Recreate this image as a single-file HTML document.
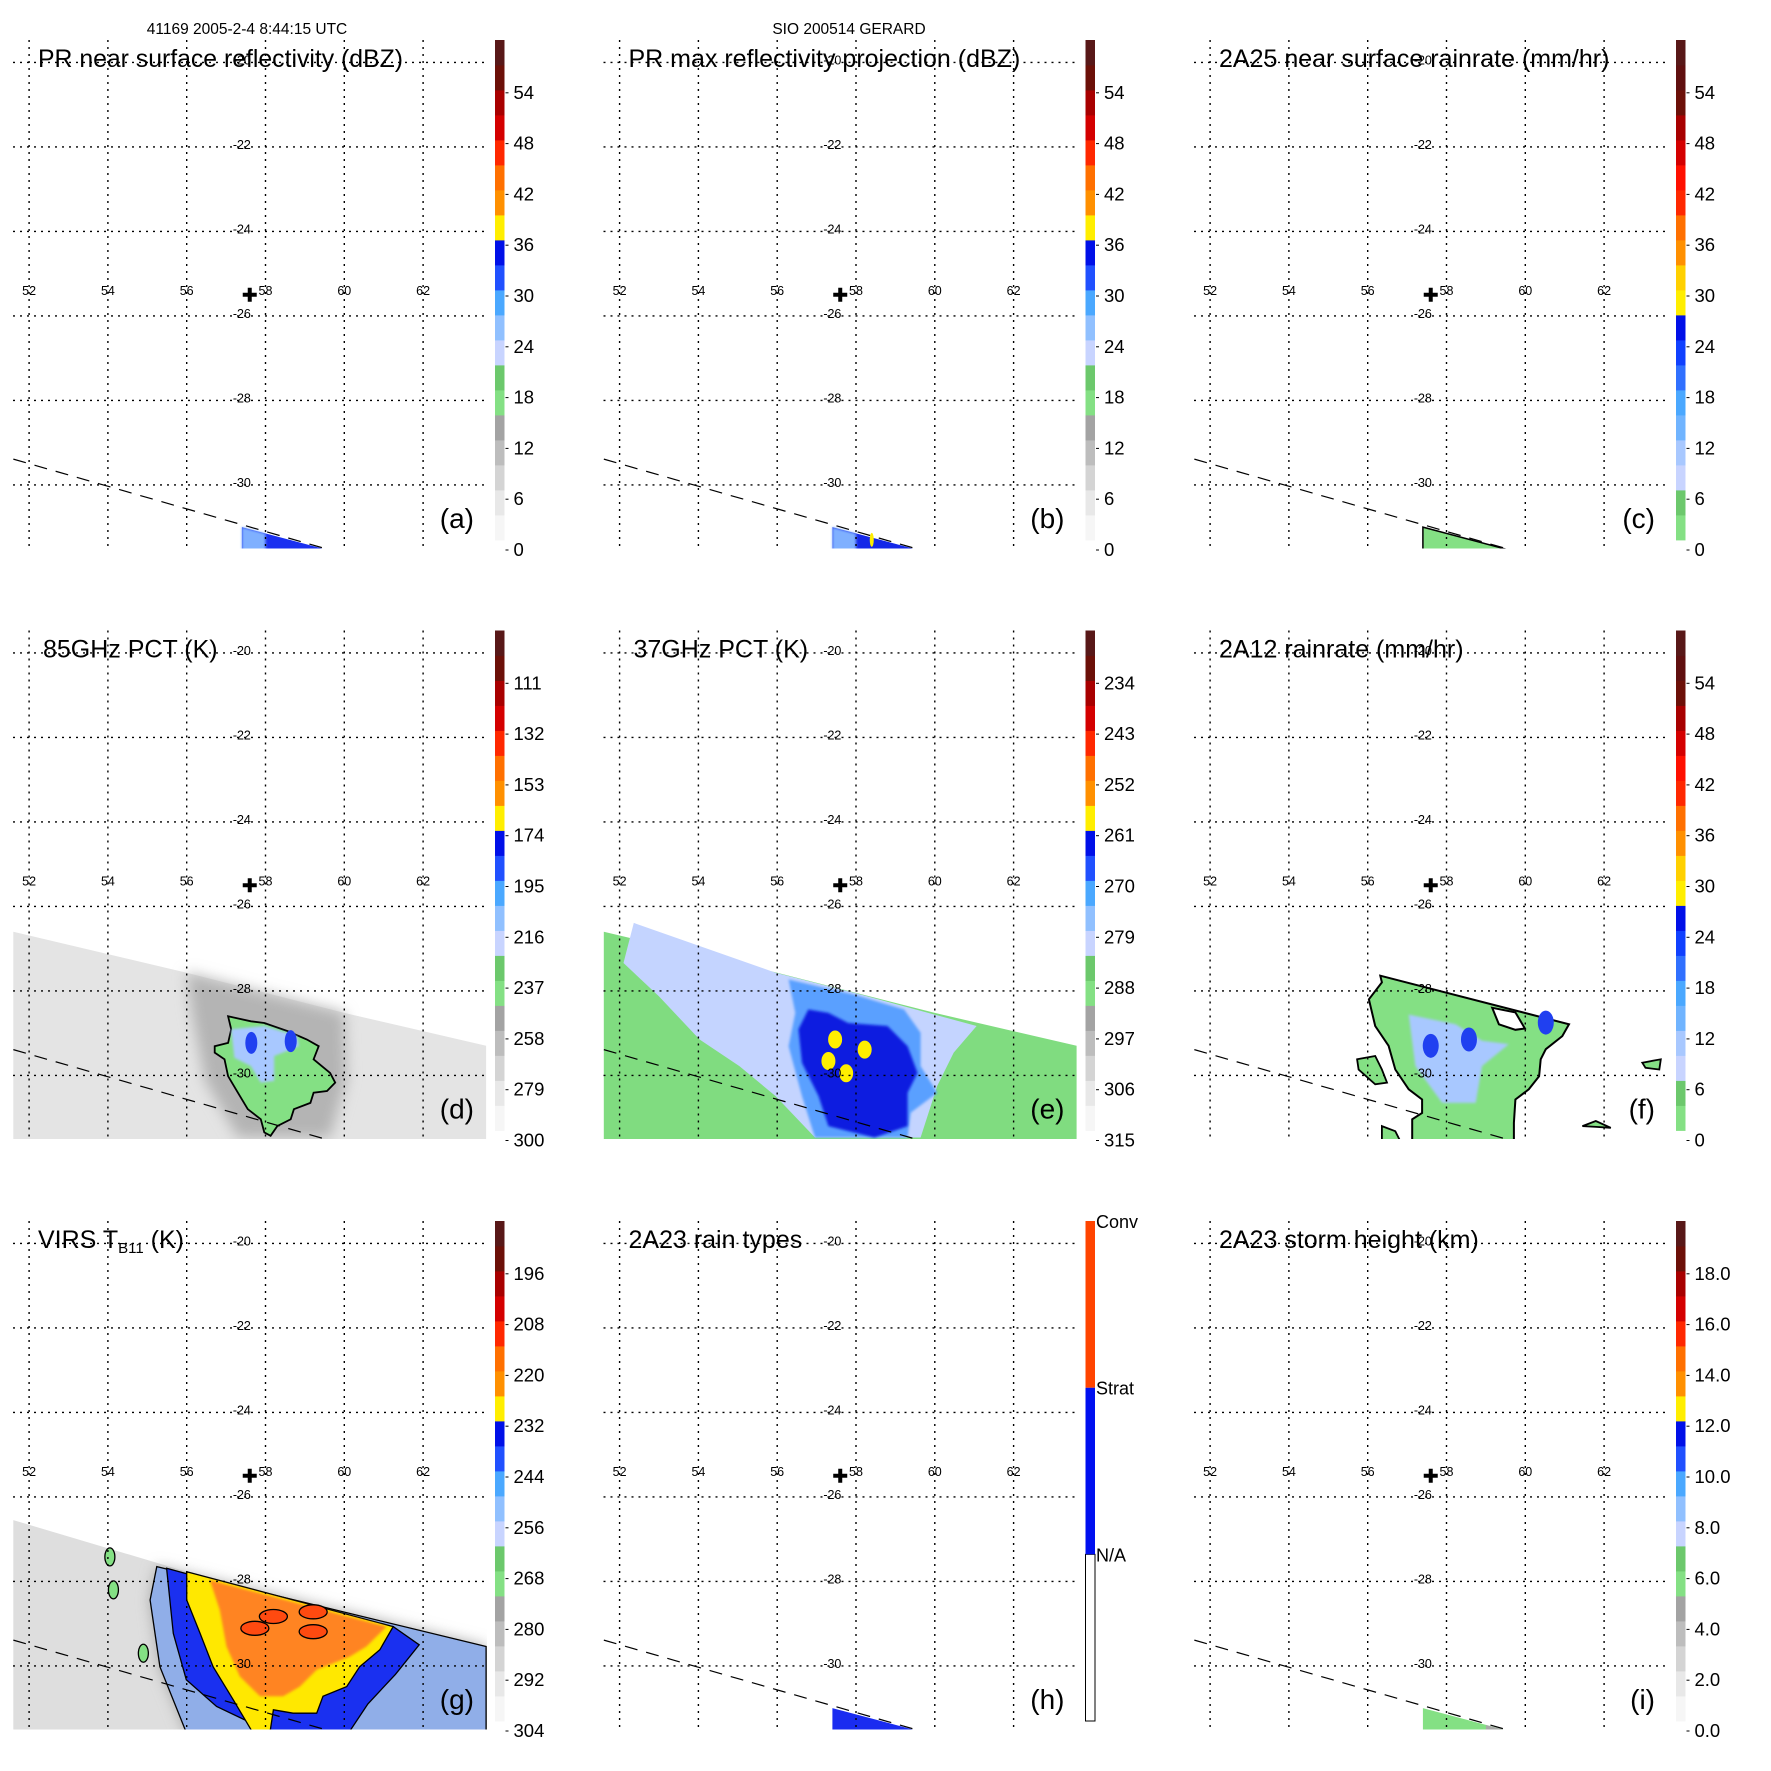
<!DOCTYPE html>
<html><head><meta charset="utf-8"><title>TRMM overpass 41169 GERARD</title>
<style>
html,body{margin:0;padding:0;background:#fff;}
svg{display:block;font-family:"Liberation Sans",Arial,sans-serif;}
</style></head>
<body>
<svg id="fig" width="1771" height="1771" viewBox="0 0 1771 1771" xmlns="http://www.w3.org/2000/svg">
<defs>
<filter id="blur6" x="-20%" y="-20%" width="140%" height="140%"><feGaussianBlur stdDeviation="7"/></filter>
<filter id="blur2"><feGaussianBlur stdDeviation="1.2"/></filter>
</defs>
<text x="247" y="34" font-size="15.5" text-anchor="middle">41169 2005-2-4 8:44:15 UTC</text>
<text x="849" y="34" font-size="15.5" text-anchor="middle">SIO 200514 GERARD</text>
</svg>
<script>
// ---- axis data ----
const lonTicks = [52,54,56,58,60,62];
const latTicks = [-20,-22,-24,-26,-28,-30];
const centerPoint = [57.6,-25.5];
const dashLine = [[51.6,-29.39],[59.6,-31.53]];
// ---- colorbar tick labels ----
const labelsDbz = ['0','6','12','18','24','30','36','42','48','54'];
const labels85 = ['300','279','258','237','216','195','174','153','132','111'];
const labels37 = ['315','306','297','288','279','270','261','252','243','234'];
const labelsVirs = ['304','292','280','268','256','244','232','220','208','196'];
const labelsHeight = ['0.0','2.0','4.0','6.0','8.0','10.0','12.0','14.0','16.0','18.0'];
const rainTypeLabels = ['N/A','Strat','Conv'];
// ---- colour tables (20 bins each) ----
const colorsA = ['#f6f6f6','#e8e8e8','#d4d4d4','#bdbdbd','#a3a3a3','#84e084','#6cc86c','#c8d4ff','#90c0ff','#4aa8ff','#2050ff','#0010e8','#ffee00','#ff9000','#ff7000','#ff2800','#d40000','#a80000','#6c1008','#581818'];
const colorsC = ['#84e084','#6cc86c','#c8d4ff','#a8c8ff','#70b4ff','#4aa8ff','#3070ff','#1040ff','#0010e8','#ffee00','#ffd000','#ff9000','#ff7000','#ff2800','#ff1000','#d40000','#a80000','#6c1008','#601010','#581818'];
// ---- PR swath (rows 1,3) ----
const prSwath = [[57.4,-31.0],[59.9,-31.62],[57.4,-31.62]];
// ---- TMI swath ----
const tmiSwath = [[51.6,-26.6],[56.0,-27.57],[60.0,-28.52],[63.6,-29.3],[63.6,-31.7],[51.6,-31.7]];
// ---- panel d (85 GHz) ----
const dDark = [[56.0,-27.57],[57.97,-28.05],[60.0,-28.52],[60.06,-30.1],[59.64,-31.47],[57.3,-31.47],[56.46,-30.1],[56.13,-28.52]];
const dGreen = [[57.05,-28.6],[57.63,-28.72],[57.97,-28.76],[58.55,-28.95],[59.05,-29.15],[59.35,-29.31],[59.22,-29.62],[59.64,-29.94],[59.77,-30.17],[59.56,-30.37],[59.22,-30.41],[59.14,-30.65],[58.72,-30.8],[58.64,-31.04],[58.3,-31.2],[58.13,-31.43],[57.97,-31.35],[57.88,-31.04],[57.55,-30.8],[57.3,-30.41],[57.05,-30.02],[56.96,-29.62],[56.71,-29.46],[56.71,-29.31],[57.05,-29.23],[57.13,-28.91]];
const dLight = [[57.13,-28.91],[57.97,-28.83],[58.8,-29.07],[58.85,-29.31],[58.22,-29.54],[58.22,-30.13],[57.88,-30.17],[57.63,-29.78],[57.21,-29.58]];
const dBlueSpots = [[57.64,-29.23],[58.64,-29.19]];
// ---- panel e (37 GHz) ----
const eLight = [[52.36,-26.39],[55.96,-27.57],[57.97,-28.05],[61.06,-28.83],[60.48,-29.46],[60.06,-30.25],[59.64,-31.47],[56.96,-31.47],[55.96,-30.49],[55.04,-29.78],[54.03,-29.15],[53.0,-28.13],[52.1,-27.34]];
const eMid = [[56.29,-27.73],[57.97,-28.09],[59.22,-28.44],[59.64,-28.99],[59.64,-29.78],[60.06,-30.41],[59.39,-30.88],[59.31,-31.47],[56.96,-31.47],[56.63,-30.49],[56.29,-29.31],[56.46,-28.52]];
const eCore = [[56.79,-28.44],[57.3,-28.52],[57.8,-28.76],[58.8,-28.83],[59.31,-29.31],[59.56,-29.94],[59.31,-30.41],[59.31,-31.2],[58.47,-31.47],[57.3,-31.2],[57.05,-30.49],[56.63,-29.7],[56.54,-28.91]];
const eYellow = [[57.47,-29.15],[58.22,-29.39],[57.3,-29.66],[57.75,-29.95]];
// ---- panel f (2A12) ----
const fGreen = [[56.32,-27.64],[61.11,-28.79],[60.94,-29.07],[60.52,-29.38],[60.39,-29.62],[60.35,-30.02],[60.09,-30.33],[59.75,-30.57],[59.71,-31.12],[59.71,-31.62],[57.13,-31.62],[57.13,-31.04],[57.38,-30.89],[57.38,-30.57],[57.04,-30.33],[56.7,-29.86],[56.53,-29.3],[56.19,-28.83],[56.03,-28.2],[56.36,-27.8]];
const fNotch = [[59.16,-28.4],[59.33,-28.79],[59.75,-28.92],[59.99,-28.89],[59.75,-28.51]];
const fIsle1 = [[55.73,-29.62],[56.19,-29.54],[56.36,-29.86],[56.49,-30.17],[56.19,-30.21],[55.77,-29.86]];
const fIsle2 = [[56.36,-31.2],[56.7,-31.32],[56.86,-31.62],[56.36,-31.62]];
const fIsle3 = [[62.97,-29.7],[63.44,-29.62],[63.4,-29.86],[63.05,-29.82]];
const fIsle4 = [[61.45,-31.2],[61.79,-31.08],[62.17,-31.24],[61.8,-31.22]];
const fLight = [[57.04,-28.56],[58.23,-28.79],[58.9,-29.18],[59.58,-29.26],[58.9,-29.78],[58.74,-30.65],[57.89,-30.65],[57.21,-29.78]];
const fBlueSpots = [[57.6,-29.3],[58.57,-29.15],[60.52,-28.75]];
// ---- panel g (VIRS) ----
const virsSwath = [[51.6,-26.55],[56.0,-27.77],[61.24,-29.07],[63.6,-29.54],[63.6,-31.7],[51.6,-31.7]];
const gLightBlue = [[55.24,-27.65],[63.6,-29.54],[63.6,-31.6],[56.0,-31.6],[55.32,-30.02],[55.07,-28.44]];
const gBlue = [[55.49,-27.69],[56.59,-27.97],[60.22,-28.91],[61.24,-29.07],[61.9,-29.5],[61.3,-30.2],[60.6,-30.9],[60.1,-31.6],[58.2,-31.6],[56.76,-30.96],[55.99,-30.33],[55.66,-29.23]];
const gYellow = [[56.0,-27.77],[61.24,-29.07],[60.9,-29.62],[60.39,-30.02],[60.06,-30.49],[59.46,-30.72],[59.3,-31.12],[58.7,-31.12],[58.2,-31.04],[58.11,-31.6],[57.69,-31.6],[57.18,-30.8],[56.67,-30.02],[56.34,-29.23],[56.0,-28.44]];
const gOrange = [[56.59,-27.97],[61.07,-29.07],[60.56,-29.54],[60.14,-29.78],[59.3,-30.09],[58.87,-30.49],[58.45,-30.72],[57.86,-30.72],[57.35,-30.25],[57.01,-29.54],[56.84,-28.68]];
const gRedSpots = [[57.73,-29.11],[59.21,-29.19],[58.2,-28.83],[59.21,-28.72]];
const gGreenSpots = [[54.9,-29.7],[54.14,-28.2],[54.05,-27.42]];

// ---- layout ----
const PW = 590.5;
const PLOT = {x0:13, x1:487, y0:40, y1:548.5};
const CB = {x:495, w:9.5, y0:40, y1:540};
function xOf(lon){ return 29.1 + (lon-52)*39.4; }
function yOf(lat){ return 62.4 + (-20-lat)*42.25; }
function pts(arr){ return arr.map(p => xOf(p[0]).toFixed(1)+','+yOf(p[1]).toFixed(1)).join(' '); }
const NS = 'http://www.w3.org/2000/svg';
const svg = document.getElementById('fig');
function mk(tag, parent, attrs){
  const e = document.createElementNS(NS, tag);
  for (const k in attrs) e.setAttribute(k, attrs[k]);
  parent.appendChild(e);
  return e;
}
function poly(parent, arr, name, fill, stroke, sw, filt){
  const e = mk('polygon', parent, {points: pts(arr), fill: fill, stroke: stroke||'none', 'stroke-width': sw||0});
  if (filt) e.setAttribute('filter', filt);
  
  
  return e;
}
function spot(parent, p, rx, ry, fill, name, stroke){
  const e = mk('ellipse', parent, {cx: xOf(p[0]), cy: yOf(p[1]), rx: rx, ry: ry, fill: fill, stroke: stroke||'none', 'stroke-width': 1.3});
  
  
  return e;
}

const panels = [
  {id:'a', col:0,row:0, title:'PR near surface reflectivity (dBZ)', tx:38, tl:365, cb:colorsA, labels:labelsDbz, draw:'prA'},
  {id:'b', col:1,row:0, title:'PR max reflectivity projection (dBZ)', tx:38, cb:colorsA, labels:labelsDbz, draw:'prB'},
  {id:'c', col:2,row:0, title:'2A25 near surface rainrate (mm/hr)', tx:38, cb:colorsC, labels:labelsDbz, draw:'prC'},
  {id:'d', col:0,row:1, title:'85GHz PCT (K)', tx:43, cb:colorsA, labels:labels85, draw:'d'},
  {id:'e', col:1,row:1, title:'37GHz PCT (K)', tx:43, cb:colorsA, labels:labels37, draw:'e'},
  {id:'f', col:2,row:1, title:'2A12 rainrate (mm/hr)', tx:38, cb:colorsC, labels:labelsDbz, draw:'f'},
  {id:'g', col:0,row:2, title:'VIRS', tx:38, cb:colorsA, labels:labelsVirs, draw:'g'},
  {id:'h', col:1,row:2, title:'2A23 rain types', tx:38, cb:null, labels:rainTypeLabels, draw:'prH'},
  {id:'i', col:2,row:2, title:'2A23 storm height (km)', tx:38, cb:colorsA, labels:labelsHeight, draw:'prI'}
];

panels.forEach(P => {
  const g = mk('g', svg, {transform: 'translate('+(P.col*PW)+','+(P.row*PW)+')'});
  
  
  const cp = mk('clipPath', g, {id: 'clip-'+P.id});
  mk('rect', cp, {x:PLOT.x0, y:PLOT.y0, width:PLOT.x1-PLOT.x0, height:PLOT.y1-PLOT.y0});
  const d = mk('g', g, {'clip-path': 'url(#clip-'+P.id+')'});
  
  

  if (P.draw.startsWith('pr')) {
    const fills = {prA:'#1a30f0', prB:'#1428e8', prC:'#84e084', prH:'#1a2cf0', prI:'#84e084'};
    poly(d, prSwath, 'pr-swath', fills[P.draw], P.draw==='prC'?'#000':'none', 1.5);
    if (P.draw==='prA' || P.draw==='prB') {
      poly(d, [[57.4,-31.0],[58.0,-31.15],[58.0,-31.62],[57.4,-31.62]], 'pr-swath-light-edge', '#7fb0ff', 'none', 0, 'url(#blur2)');
    }
    if (P.draw==='prB') { spot(d, [58.4,-31.3], 2, 7, '#ffee00', 'max-refl-spot'); }
    if (P.draw==='prI') { poly(d, [[59.0,-31.4],[59.9,-31.62],[59.0,-31.62]], 'height-gray-part', '#a8a8a8'); }
  }
  if (P.draw==='d' || P.draw==='e') {
    poly(d, tmiSwath, 'tmi-swath', P.draw==='d' ? '#e4e4e4' : '#80dc80');
  }
  if (P.draw==='d') {
    poly(d, dDark, 'cold-gray-region', '#b4b4b4', 'none', 0, 'url(#blur6)');
    poly(d, dGreen, 'pct85-green-region', '#84e084', '#000', 1.8);
    poly(d, dLight, 'pct85-light-blue', '#a8c8ff', 'none', 0, 'url(#blur2)');
    dBlueSpots.forEach((p,i) => spot(d, p, 6, 11, '#2040f0', 'pct85-blue-spot-'+i));
  }
  if (P.draw==='e') {
    poly(d, eLight, 'pct37-light-blue', '#c4d4ff');
    poly(d, eMid, 'pct37-mid-blue', '#5aa0ff', 'none', 0, 'url(#blur2)');
    poly(d, eCore, 'pct37-core-blue', '#0a1ae0', 'none', 0, 'url(#blur2)');
    eYellow.forEach((p,i) => spot(d, p, 7, 9, '#ffee00', 'pct37-yellow-spot-'+i));
  }
  if (P.draw==='f') {
    poly(d, fGreen, 'rain-green-region', '#84e084', '#000', 2);
    poly(d, fNotch, 'rain-notch', '#fff', '#000', 2);
    poly(d, fLight, 'rain-light-blue', '#a8c8ff', 'none', 0, 'url(#blur2)');
    fBlueSpots.forEach((p,i) => spot(d, p, 8, 12, '#2040f0', 'rain-blue-spot-'+i));
    [fIsle1,fIsle2,fIsle3,fIsle4].forEach((a,i) => poly(d, a, 'rain-island-'+i, '#84e084', '#000', 1.8));
  }
  if (P.draw==='g') {
    poly(d, virsSwath, 'virs-swath', '#dedede');
    poly(d, gLightBlue, 'virs-gray-halo', '#a8a8a8', 'none', 0, 'url(#blur6)');
    poly(d, gLightBlue, 'virs-light-blue', '#90aee8', '#000', 1.3);
    poly(d, gBlue, 'virs-blue', '#1a30f0', '#000', 1.3);
    poly(d, gYellow, 'virs-yellow', '#ffe800', '#000', 1.3);
    poly(d, gOrange, 'virs-orange', '#ff8424', 'none', 0, 'url(#blur2)');
    gRedSpots.forEach((p,i) => spot(d, p, 14, 7, '#ff4a10', 'virs-red-spot-'+i, '#000'));
    gGreenSpots.forEach((p,i) => spot(d, p, 5, 9, '#84e084', 'virs-green-spot-'+i, '#000'));
  }

  // grid
  const gr = mk('g', g, {stroke:'#000', 'stroke-width':1.4, 'stroke-dasharray':'2,5', fill:'none'});
  
  
  lonTicks.forEach(lon => {
    const l = mk('line', gr, {x1:xOf(lon), x2:xOf(lon), y1:PLOT.y0, y2:PLOT.y1});
    
    
  });
  latTicks.forEach(lat => {
    const l = mk('line', gr, {x1:PLOT.x0, x2:PLOT.x1, y1:yOf(lat), y2:yOf(lat)});
    
    
  });
  const dl = mk('line', g, {x1:xOf(dashLine[0][0]), y1:yOf(dashLine[0][1]), x2:xOf(dashLine[1][0]), y2:yOf(dashLine[1][1]), stroke:'#000', 'stroke-width':1.2, 'stroke-dasharray':'13,9'});
  
  
  // tick labels
  lonTicks.forEach(lon => {
    const t = mk('text', g, {x:xOf(lon), y:295, 'font-size':12.5, 'text-anchor':'middle'});
    t.textContent = String(lon);
    
    
  });
  latTicks.forEach(lat => {
    const t = mk('text', g, {x:xOf(57.4), y:yOf(lat)+2, 'font-size':12.5, 'text-anchor':'middle'});
    t.textContent = String(lat);
    
    
  });
  // center cross
  const cx = xOf(centerPoint[0]), cy = yOf(centerPoint[1]);
  const cr = mk('path', g, {d:'M'+(cx-7)+','+cy+' H'+(cx+7)+' M'+cx+','+(cy-7)+' V'+(cy+7), stroke:'#000', 'stroke-width':4});
  
  
  // title
  const tt = mk('text', g, {x:P.tx, y:67, 'font-size':25});
  if (P.tl) { tt.setAttribute('textLength', P.tl); tt.setAttribute('lengthAdjust', 'spacingAndGlyphs'); }
  
  
  if (P.id==='g') {
    tt.textContent = 'VIRS T';
    const sub = mk('tspan', tt, {'font-size':15, dy:5}); sub.textContent = 'B11';
    const rest = mk('tspan', tt, {dy:-5}); rest.textContent = ' (K)';
  } else { tt.textContent = P.title; }
  // panel letter
  const lt = mk('text', g, {x:474, y:528, 'font-size':28, 'text-anchor':'end'});
  lt.textContent = '('+P.id+')';
  
  
  // colorbar
  const cbg = mk('g', g, {});
  
  
  if (P.cb) {
    const n = P.cb.length, h = (CB.y1-CB.y0)/n;
    P.cb.forEach((c,i) => {
      const r = mk('rect', cbg, {x:CB.x, y:CB.y1-(i+1)*h, width:CB.w, height:h+0.4, fill:c});
      
      
    });
    P.labels.forEach((lab,i) => {
      const y = 550 - i*50.8;
      const tk = mk('line', cbg, {x1:CB.x+CB.w+1, x2:CB.x+CB.w+4, y1:y, y2:y, stroke:'#000', 'stroke-width':1});
      
      
      const t = mk('text', cbg, {x:CB.x+CB.w+9, y:y+6, 'font-size':18.5});
      t.textContent = lab;
      
      
    });
  } else {
    const thirds = ['#ffffff','#0010f0','#ff4400'];
    const h = (CB.y1-CB.y0)/3;
    thirds.forEach((c,i) => {
      const r = mk('rect', cbg, {x:CB.x, y:CB.y1-(i+1)*h, width:CB.w, height:h, fill:c, stroke: i===0?'#000':'none', 'stroke-width':1});
      
      
    });
    P.labels.forEach((lab,i) => {
      const t = mk('text', cbg, {x:CB.x+CB.w+1, y:CB.y1-(i+1)*h+7, 'font-size':18});
      t.textContent = lab;
      
      
    });
  }
});
</script>
</body></html>
